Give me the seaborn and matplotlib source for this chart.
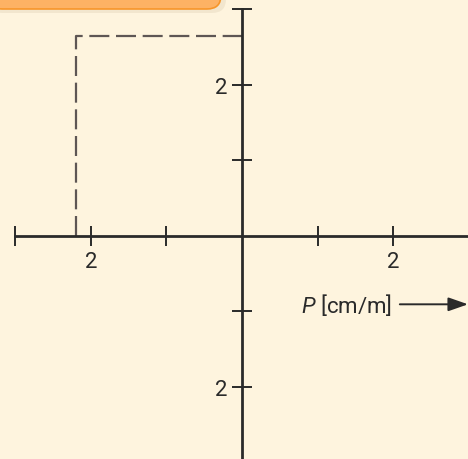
import matplotlib
matplotlib.use("Agg")
import matplotlib.pyplot as plt
import seaborn as sns
import pandas as pd
from matplotlib.patches import FancyBboxPatch

# data
x_ticks = [-3, -2, -1, 1, 2]
x_ticklabels = ["", "2", "", "", "2"]
y_ticks = [-2, -1, 1, 2, 3]
y_ticklabels = ["2", "", "", "2", ""]
guide_x = [-2.2, -2.2, 0.0]
guide_y = [0.0, 2.65, 2.65]
axis_label = "$P$ [cm/m]"

bg = "#FEF4DE"
ink = "#2A2A2A"

sns.set_theme(style="white")
plt.rcParams["font.family"] = ["Roboto", "DejaVu Sans"]
plt.rcParams["mathtext.fontset"] = "custom"
plt.rcParams["mathtext.it"] = "Roboto:italic"

fig = plt.figure(figsize=(4.68, 4.60), dpi=100, facecolor=bg)
ax = fig.add_axes([0, 0, 1, 1])
ax.set_facecolor(bg)

df = pd.DataFrame({"x": guide_x, "y": guide_y})
sns.lineplot(data=df, x="x", y="y", sort=False, estimator=None, ax=ax,
             color="#5E5654", lw=1.6, linestyle=(0, (9, 3)))

ax.set_xlim(-3.205, 2.993)
ax.set_ylim(-2.954, 3.139)

for s in ["top", "right"]:
    ax.spines[s].set_visible(False)
ax.spines["left"].set_position(("data", 0))
ax.spines["bottom"].set_position(("data", 0))
ax.spines["left"].set_bounds(-2.954, 3.0)
ax.spines["bottom"].set_bounds(-3.0, 2.993)
for s in ["left", "bottom"]:
    ax.spines[s].set_color(ink)
    ax.spines[s].set_linewidth(2.0)
    ax.spines[s].set_zorder(3)

ax.set_xticks(x_ticks)
ax.set_xticklabels(x_ticklabels)
ax.set_yticks(y_ticks)
ax.set_yticklabels(y_ticklabels)
ax.tick_params(axis="both", bottom=True, left=True, direction="inout", length=15,
               width=1.4, color=ink, labelsize=16, labelcolor=ink)
ax.tick_params(axis="x", pad=3)
ax.tick_params(axis="y", pad=3)
ax.set_xlabel("")
ax.set_ylabel("")

# axis label with arrow
ax.text(1.99, -0.905, axis_label, fontsize=16, color=ink, ha="right", va="center")
ax.annotate("", xy=(2.993, -0.905), xytext=(2.09, -0.905),
            arrowprops=dict(arrowstyle="-|>,head_length=1.0,head_width=0.35",
                            color=ink, lw=1.4, shrinkA=0, shrinkB=0))

# orange header box (cut off at top)
shadow = FancyBboxPatch((-12 / 468, 1 - 14 / 460), 238 / 468, 30 / 460,
                        boxstyle="round,pad=0,rounding_size=0.03",
                        transform=fig.transFigure, facecolor="#EDE1C8",
                        edgecolor="none", alpha=0.7, zorder=4)
fig.patches.append(shadow)
box = FancyBboxPatch((-12 / 468, 1 - 10 / 460), 233 / 468, 30 / 460,
                     boxstyle="round,pad=0,rounding_size=0.03",
                     transform=fig.transFigure, facecolor="#FDB264",
                     edgecolor="#F7962A", lw=1.2, zorder=5)
fig.patches.append(box)

fig.savefig("out.png", dpi=100, facecolor=bg)
